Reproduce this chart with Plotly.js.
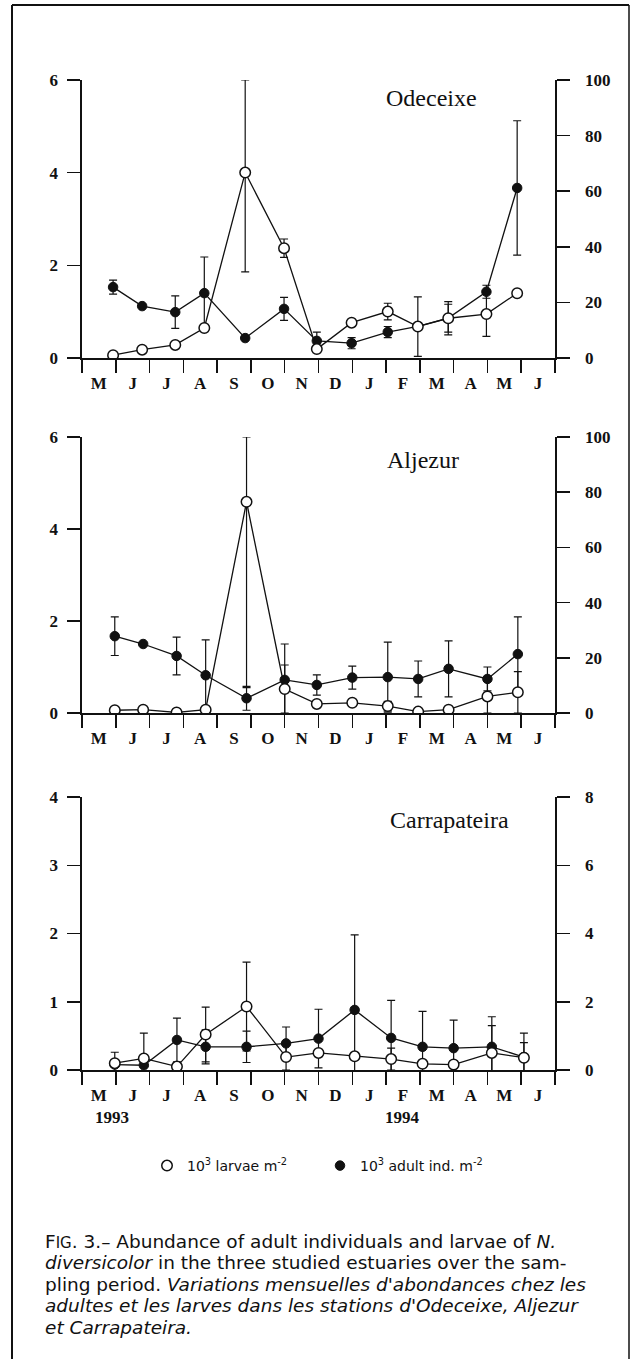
<!DOCTYPE html>
<html><head><meta charset="utf-8">
<script src="https://cdn.plot.ly/plotly-3.0.1.min.js"></script>
<style>html,body{margin:0;padding:0;background:#fff}#chart{width:632px;height:1359px}</style>
</head><body><div id="chart"></div>
<script>
// Month axis (May 1993 – June 1994)
const monthLabels = ['M','J','J','A','S','O','N','D','J','F','M','A','M','J'];
const yearLabels = ['1993','1994'];
const legendLarvae = '10<sup>3</sup> larvae m<sup>-2</sup>';
const legendAdults = '10<sup>3</sup> adult ind. m<sup>-2</sup>';

// Odeceixe (sampling position in months from 1 May 1993)
const odeMonth = [0.92, 1.78, 2.76, 3.62, 4.83, 5.98, 6.95, 7.98, 9.05, 9.94, 10.84, 11.97, 12.88];
const odeAdults = [1.53, 1.12, 0.99, 1.40, 0.43, 1.06, 0.37, 0.32, 0.56, 0.68, 0.86, 1.43, 3.67];
const odeAdultsErr = [0.15, 0, 0.35, 0.78, 0, 0.25, 0.19, 0.12, 0.12, 0, 0.30, 0.14, 1.45];
const odeLarvae = [1.0, 3.0, 4.7, 10.8, 66.7, 39.5, 3.2, 12.7, 16.7, 11.3, 14.3, 15.8, 23.3];
const odeLarvaeErrUp = [0, 0, 0, 0, 33.3, 3.3, 0, 0, 3.0, 10.7, 6.0, 8.0, 0];
const odeLarvaeErrDown = [0, 0, 0, 0, 35.7, 3.3, 0, 0, 3.0, 10.7, 6.0, 8.0, 0];

// Aljezur
const aljMonth = [0.97, 1.81, 2.80, 3.66, 4.87, 6.0, 6.95, 8.0, 9.05, 9.95, 10.85, 12.0, 12.9];
const aljAdults = [1.67, 1.50, 1.24, 0.82, 0.32, 0.72, 0.61, 0.77, 0.78, 0.74, 0.96, 0.74, 1.28];
const aljAdultsErr = [0.42, 0, 0.41, 0.77, 0.26, 0.78, 0.22, 0.25, 0.76, 0.39, 0.61, 0.26, 0.81];
const aljLarvae = [1.0, 1.2, 0.2, 1.2, 76.5, 8.7, 3.3, 3.7, 2.5, 0.5, 1.2, 6.0, 7.5];
const aljLarvaeErrUp = [0, 0, 0, 0, 23.5, 8.7, 0, 0, 1.7, 0, 0, 6.0, 7.5];
const aljLarvaeErrDown = [0, 0, 0, 0, 67.3, 8.7, 0, 0, 1.7, 0, 0, 6.0, 7.5];

// Carrapateira
const carMonth = [0.97, 1.83, 2.81, 3.66, 4.87, 6.04, 7.0, 8.07, 9.15, 10.08, 11.0, 12.13, 13.08];
const carAdults = [0.08, 0.07, 0.44, 0.34, 0.34, 0.39, 0.46, 0.88, 0.47, 0.34, 0.32, 0.34, 0.19];
const carAdultsErr = [0, 0, 0.32, 0.25, 0.23, 0.24, 0.43, 1.10, 0.55, 0.52, 0.41, 0.44, 0.35];
const carLarvae = [0.20, 0.34, 0.10, 1.04, 1.86, 0.38, 0.50, 0.40, 0.32, 0.18, 0.16, 0.50, 0.36];
const carLarvaeErrUp = [0.32, 0.74, 0, 0.80, 1.30, 0.38, 0, 0, 0.32, 0, 0, 0.80, 0.44];
const carLarvaeErrDown = [0.32, 0.74, 0, 0.80, 1.30, 0.38, 0, 0, 0.32, 0, 0, 0.80, 0.44];

const captionLines = [
  'F<span style="font-size:15px">IG</span>. 3.– Abundance of adult individuals and larvae of <i>N.</i>',
  '<i>diversicolor</i> in the three studied estuaries over the sam-',
  'pling period. <i>Variations mensuelles d\'abondances chez les</i>',
  '<i>adultes et les larves dans les stations d\'Odeceixe, Aljezur</i>',
  '<i>et Carrapateira.</i>'
];

const W = 632, H = 1359;
const px = x => x / W, py = y => 1 - y / H;
const ink = '#111';
const serif = 'Liberation Serif, Times New Roman, serif';
const sans = 'DejaVu Sans, Open Sans, sans-serif';

const stations = [
  {name:'Odeceixe', x:odeMonth, ad:odeAdults, adE:odeAdultsErr, la:odeLarvae, laUp:odeLarvaeErrUp, laDn:odeLarvaeErrDown,
   top:80, bottom:358, lmax:6, ldt:2, rmax:100, rdt:20, tx:431, ty:98},
  {name:'Aljezur', x:aljMonth, ad:aljAdults, adE:aljAdultsErr, la:aljLarvae, laUp:aljLarvaeErrUp, laDn:aljLarvaeErrDown,
   top:437, bottom:713, lmax:6, ldt:2, rmax:100, rdt:20, tx:423, ty:460},
  {name:'Carrapateira', x:carMonth, ad:carAdults, adE:carAdultsErr, la:carLarvae, laUp:carLarvaeErrUp, laDn:carLarvaeErrDown,
   top:797, bottom:1070, lmax:4, ldt:1, rmax:8, rdt:2, tx:449, ty:820}
];

const tickFont = {family: serif, size: 17, weight: 'bold', color: ink};
const xdom = [px(82), px(555)];
const traces = [];
const layout = {
  width: W, height: H, margin: {l:0, r:0, t:0, b:0},
  paper_bgcolor: '#fff', plot_bgcolor: 'rgba(0,0,0,0)',
  showlegend: true,
  legend: {orientation:'h', x: px(147), xanchor:'left', y: py(1166), yanchor:'middle',
           font:{family: sans, size: 14, color: ink}, entrywidth: 128, entrywidthmode:'pixels',
           bgcolor:'rgba(0,0,0,0)', itemclick:false, itemdoubleclick:false, traceorder:'normal'},
  annotations: [], shapes: []
};

stations.forEach((s, k) => {
  const xk = k === 0 ? 'x' : 'x' + (k + 1);
  const ylN = 2 * k + 1, yrN = 2 * k + 2;
  const yl = ylN === 1 ? 'y' : 'y' + ylN;
  const yr = 'y' + yrN;
  const xKey = k === 0 ? 'xaxis' : 'xaxis' + (k + 1);
  const ylKey = ylN === 1 ? 'yaxis' : 'yaxis' + ylN;
  const yrKey = 'yaxis' + yrN;
  const dom = [py(s.bottom), py(s.top)];

  layout[xKey] = {
    domain: xdom, anchor: yl, range: [0, monthLabels.length],
    tickmode: 'array', tickvals: monthLabels.map((m, i) => i + 0.5), ticktext: monthLabels,
    ticks: '', ticklabelstandoff: 9, tickfont: tickFont,
    showline: true, linewidth: 1.6, linecolor: ink, showgrid: false, zeroline: false, fixedrange: true,
    minor: {tickmode: 'array', tickvals: monthLabels.map((m, i) => i).concat([monthLabels.length]),
            ticks: 'outside', ticklen: 13, tickwidth: 1.5, tickcolor: ink, showgrid: false}
  };
  const yCommon = {
    ticks: 'outside', ticklen: 13, tickwidth: 1.5, tickcolor: ink, tickfont: tickFont,
    showline: true, linewidth: 1.6, linecolor: ink, showgrid: false, zeroline: false, fixedrange: true, tick0: 0
  };
  layout[ylKey] = Object.assign({domain: dom, anchor: xk, range: [0, s.lmax], dtick: s.ldt, ticklabelstandoff: 6}, yCommon);
  layout[yrKey] = Object.assign({overlaying: yl, side: 'right', anchor: xk, range: [0, s.rmax], dtick: s.rdt, ticklabelstandoff: 12}, yCommon);

  // adults (filled) on left axis
  traces.push({x: s.x, y: s.ad, xaxis: xk, yaxis: yl, mode: 'lines', line: {color: ink, width: 1.3},
               showlegend: false, hoverinfo: 'skip'});
  traces.push({x: s.x, y: s.ad, xaxis: xk, yaxis: yl, mode: 'markers', name: legendAdults,
               legendgroup: 'adults', showlegend: k === 0, legendrank: 2,
               marker: {symbol: 'circle', size: 9.5, color: ink, line: {color: ink, width: 1}},
               error_y: {type: 'data', array: s.adE, visible: true, color: ink, thickness: 1.2, width: 4}});
  // larvae (open) on right axis
  traces.push({x: s.x, y: s.la, xaxis: xk, yaxis: yr, mode: 'lines', line: {color: ink, width: 1.3},
               showlegend: false, hoverinfo: 'skip'});
  traces.push({x: s.x, y: s.la, xaxis: xk, yaxis: yr, mode: 'markers', name: legendLarvae,
               legendgroup: 'larvae', showlegend: k === 0, legendrank: 1,
               marker: {symbol: 'circle', size: 10.5, color: '#fff', line: {color: ink, width: 1.5}},
               error_y: {type: 'data', symmetric: false, array: s.laUp, arrayminus: s.laDn, visible: true,
                         color: ink, thickness: 1.2, width: 4}});

  layout.annotations.push({xref: 'paper', yref: 'paper', x: px(s.tx), y: py(s.ty), text: s.name,
    showarrow: false, xanchor: 'center', yanchor: 'middle', font: {family: serif, size: 24, color: ink}});
});

// year labels under the last panel
layout.annotations.push({xref: 'x3', yref: 'paper', x: 0.9, y: py(1117), text: yearLabels[0], showarrow: false,
  xanchor: 'center', yanchor: 'middle', font: tickFont});
layout.annotations.push({xref: 'x3', yref: 'paper', x: 9.5, y: py(1117), text: yearLabels[1], showarrow: false,
  xanchor: 'center', yanchor: 'middle', font: tickFont});

// caption, one annotation per printed line
captionLines.forEach((t, i) => {
  layout.annotations.push({xref: 'paper', yref: 'paper', x: px(43), y: py(1241 + 21.5 * i), text: t,
    showarrow: false, xanchor: 'left', yanchor: 'middle', align: 'left',
    font: {family: sans, size: 18.5, color: ink}});
});

// frame
layout.shapes.push({type: 'line', xref: 'paper', yref: 'paper', x0: px(12), x1: px(12), y0: 0, y1: py(5), line: {color: ink, width: 2}});
layout.shapes.push({type: 'line', xref: 'paper', yref: 'paper', x0: px(12), x1: px(629), y0: py(5), y1: py(5), line: {color: ink, width: 2}});
layout.shapes.push({type: 'line', xref: 'paper', yref: 'paper', x0: px(629), x1: px(629), y0: 0, y1: py(5), line: {color: ink, width: 1.5}});

Plotly.newPlot('chart', traces, layout, {staticPlot: true, displayModeBar: false});
</script>
</body></html>
